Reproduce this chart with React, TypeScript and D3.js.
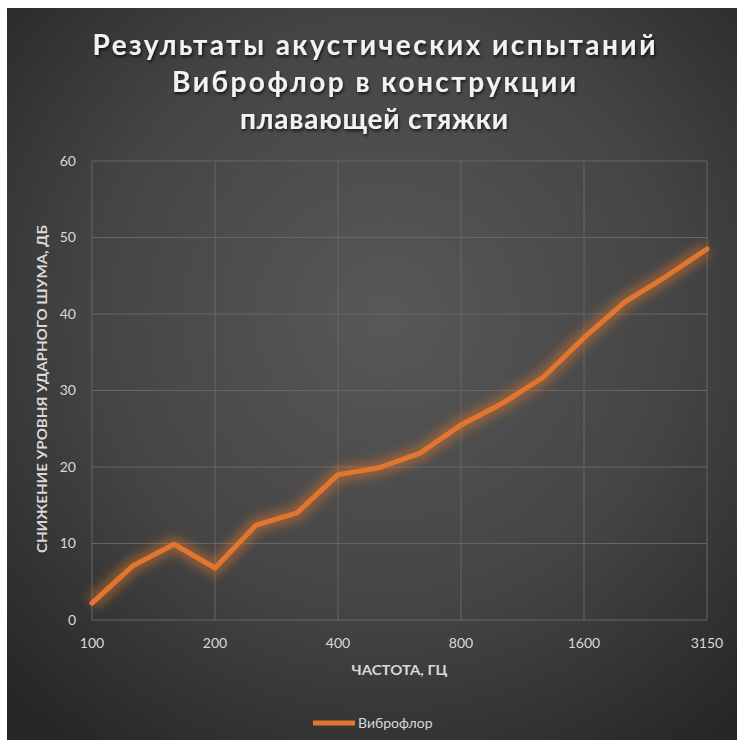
import * as d3 from "d3"

// third-octave frequency bands, Hz
const categories = ["100", "125", "160", "200", "250", "315", "400", "500", "630", "800", "1000", "1250", "1600", "2000", "2500", "3150"]
// impact noise reduction, dB
const values = [2.2, 7.1, 9.9, 6.8, 12.4, 14.0, 19.0, 19.9, 21.8, 25.5, 28.3, 31.7, 36.9, 41.6, 44.9, 48.5]
const xTickLabels = ["100", "200", "400", "800", "1600", "3150"]
const yTicks = [0, 10, 20, 30, 40, 50, 60]
const titleLines = ["Результаты акустических испытаний", "Виброфлор в конструкции", "плавающей стяжки"]
const seriesName = "Виброфлор"

const W = 740
const H = 740
const margin = { top: 161, right: 33, bottom: 120, left: 92 }
const font = "Lato, 'Open Sans', 'DejaVu Sans', sans-serif"
const orange = "#e2762f"

export default function App() {
  const x = d3.scalePoint<string>().domain(categories).range([margin.left, W - margin.right])
  const y = d3.scaleLinear().domain([0, 60]).range([H - margin.bottom, margin.top])

  const line = d3
    .line<number>()
    .x((_, i) => x(categories[i])!)
    .y((d) => y(d))

  const path = line(values) || ""
  const cx = (margin.left + W - margin.right) / 2

  // rough widths of the title lines in the original
  const titleWidths = [563, 404, 268]

  return (
    <svg width={W} height={H} style={{ position: "absolute", left: 0, top: 0 }}>
      <defs>
        <radialGradient id="bg" cx="52%" cy="42%" r="72%">
          <stop offset="0%" stopColor="#585858" />
          <stop offset="55%" stopColor="#454545" />
          <stop offset="100%" stopColor="#272727" />
        </radialGradient>
        <filter id="glow" x="-10%" y="-10%" width="120%" height="120%">
          <feGaussianBlur stdDeviation="5" />
        </filter>
        <filter id="shadow" x="-5%" y="-20%" width="110%" height="150%">
          <feDropShadow dx="1" dy="2" stdDeviation="1.5" floodColor="#000" floodOpacity="0.7" />
        </filter>
      </defs>

      <rect x={0} y={0} width={W} height={H} fill="#fff" />
      <rect x={7} y={8} width={730} height={H - 8} fill="url(#bg)" />

      {/* title */}
      <g filter="url(#shadow)">
        {titleLines.map((t, i) => (
          <text
            key={t}
            x={374}
            y={55 + i * 37}
            textAnchor="middle"
            fill="#f2f2f2"
            fontFamily={font}
            fontWeight="bold"
            fontSize={28}
            textLength={titleWidths[i]}
            lengthAdjust="spacing"
          >
            {t}
          </text>
        ))}
      </g>

      {/* grid */}
      <g stroke="#666666" strokeWidth={1}>
        {yTicks.map((t) => (
          <line key={t} x1={margin.left} x2={W - margin.right} y1={y(t)} y2={y(t)} />
        ))}
        {xTickLabels.map((c) => (
          <line key={c} x1={x(c)} x2={x(c)} y1={margin.top} y2={H - margin.bottom} />
        ))}
      </g>

      {/* y tick labels */}
      {yTicks.map((t) => (
        <text
          key={t}
          x={76}
          y={y(t)}
          dy="0.35em"
          textAnchor="end"
          fill="#d9d9d9"
          fontFamily={font}
          fontSize={14}
        >
          {t}
        </text>
      ))}

      {/* x tick labels */}
      {xTickLabels.map((c) => (
        <text
          key={c}
          x={x(c)}
          y={643}
          dy="0.35em"
          textAnchor="middle"
          fill="#d9d9d9"
          fontFamily={font}
          fontSize={14}
        >
          {c}
        </text>
      ))}

      {/* axis titles */}
      <text
        x={cx}
        y={670}
        dy="0.35em"
        textAnchor="middle"
        fill="#d9d9d9"
        fontFamily={font}
        fontWeight="bold"
        fontSize={13.5}
        textLength={96}
        lengthAdjust="spacingAndGlyphs"
      >
        ЧАСТОТА, ГЦ
      </text>
      <text
        transform={`translate(42,389) rotate(-90)`}
        dy="0.35em"
        textAnchor="middle"
        fill="#d9d9d9"
        fontFamily={font}
        fontWeight="bold"
        fontSize={13.5}
        textLength={328}
        lengthAdjust="spacingAndGlyphs"
      >
        СНИЖЕНИЕ УРОВНЯ УДАРНОГО ШУМА, ДБ
      </text>

      {/* series: glow + line */}
      <path d={path} fill="none" stroke={orange} strokeOpacity={0.45} strokeWidth={16} strokeLinejoin="round" filter="url(#glow)" />
      <path d={path} fill="none" stroke={orange} strokeWidth={5} strokeLinejoin="round" strokeLinecap="round" />

      {/* legend */}
      <line x1={313} x2={355} y1={723} y2={723} stroke={orange} strokeWidth={5} />
      <text x={358} y={723} dy="0.35em" fill="#d9d9d9" fontFamily={font} fontSize={14}>
        {seriesName}
      </text>
    </svg>
  )
}
